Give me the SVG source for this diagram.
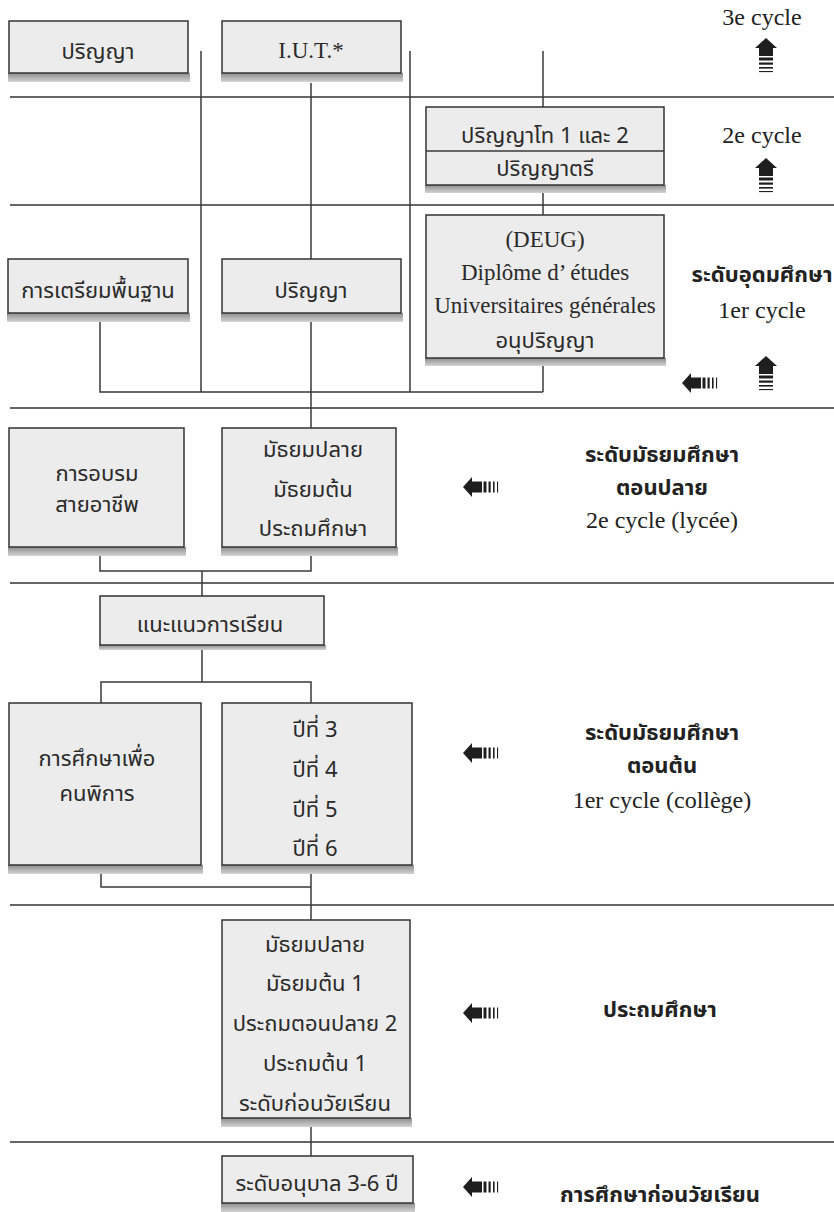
<svg xmlns="http://www.w3.org/2000/svg" width="834" height="1212" viewBox="0 0 834 1212">
<style>
.bg{fill:#ffffff}
.box{fill:#ececec;stroke:#333333;stroke-width:1.5}
.shd{fill:url(#sg)}
.ln{stroke:#3a3a3a;stroke-width:1.5;fill:none}
.sep{stroke:#333333;stroke-width:1.5}
.th{font-family:"Noto Sans Thai","Noto Sans","DejaVu Sans",sans-serif;font-size:22px;fill:#2a2a2a;text-anchor:middle}
.lat{font-family:"Liberation Serif","DejaVu Serif",serif;font-size:23px;fill:#2a2a2a;text-anchor:middle}
.thb{font-family:"Noto Sans Thai","Noto Sans","DejaVu Sans",sans-serif;font-size:22px;font-weight:bold;fill:#222222;text-anchor:middle}
.latr{font-family:"Liberation Serif","DejaVu Serif",serif;font-size:24px;fill:#222222;text-anchor:middle}
.arr{fill:#1e1e1e}
</style>
<defs>
<linearGradient id="sg" x1="0" y1="0" x2="0" y2="1">
<stop offset="0" stop-color="#8c8c8c"/>
<stop offset="1" stop-color="#d4d4d4"/>
</linearGradient>
<g id="upArrow">
<polygon points="0,0 11,10 7,10 7,18 -7,18 -7,10 -11,10"/>
<rect x="-7" y="19.5" width="14" height="3"/>
<rect x="-7" y="24.5" width="14" height="2.2"/>
<rect x="-7" y="29" width="14" height="1.6"/>
<rect x="-7" y="33" width="14" height="1.1"/>
</g>
<g id="leftArrow">
<polygon points="0,0 9,-10 9,-5.5 19,-5.5 19,5.5 9,5.5 9,10"/>
<rect x="20.5" y="-5.5" width="3" height="11"/>
<rect x="25.5" y="-5.5" width="2.2" height="11"/>
<rect x="30" y="-5.5" width="1.6" height="11"/>
<rect x="34" y="-5.5" width="1.1" height="11"/>
</g>
</defs>
<rect class="bg" x="0" y="0" width="834" height="1212"/>

<g id="separators">
<line class="sep" x1="10" y1="97" x2="834" y2="97"/>
<line class="sep" x1="10" y1="205" x2="834" y2="205"/>
<line class="sep" x1="10" y1="408" x2="834" y2="408"/>
<line class="sep" x1="10" y1="583" x2="834" y2="583"/>
<line class="sep" x1="10" y1="905" x2="834" y2="905"/>
<line class="sep" x1="10" y1="1142" x2="834" y2="1142"/>
</g>

<g id="connectors">
<line class="ln" x1="201" y1="51" x2="201" y2="392"/>
<line class="ln" x1="410" y1="51" x2="410" y2="392"/>
<line class="ln" x1="311" y1="83" x2="311" y2="259"/>
<line class="ln" x1="311" y1="322" x2="311" y2="428"/>
<line class="ln" x1="543" y1="51" x2="543" y2="107"/>
<line class="ln" x1="543" y1="193" x2="543" y2="215"/>
<line class="ln" x1="543" y1="366" x2="543" y2="392"/>
<polyline class="ln" points="100,322 100,392 543,392"/>
<polyline class="ln" points="100,556 100,571 311,571 311,556"/>
<line class="ln" x1="202" y1="571" x2="202" y2="596"/>
<line class="ln" x1="202" y1="649" x2="202" y2="682"/>
<polyline class="ln" points="101,703 101,682 311,682 311,703"/>
<polyline class="ln" points="101,874 101,887 311,887"/>
<line class="ln" x1="311" y1="874" x2="311" y2="920"/>
<line class="ln" x1="311" y1="1127" x2="311" y2="1156"/>
</g>

<g id="n-parinya-top">
<rect class="shd" x="8" y="73" width="182" height="9"/>
<rect class="box" x="9" y="21" width="179" height="52"/>
<text class="th" x="98" y="59">ปริญญา</text>
</g>
<g id="n-iut">
<rect class="shd" x="221" y="73" width="182" height="9"/>
<rect class="box" x="222" y="21" width="179" height="52"/>
<text class="lat" x="311" y="58">I.U.T.*</text>
</g>
<g id="n-master">
<rect class="shd" x="425" y="185" width="241" height="8"/>
<rect class="box" x="426" y="107" width="238" height="78"/>
<line class="ln" x1="426" y1="151" x2="664" y2="151"/>
<text class="th" x="545" y="143">ปริญญาโท 1 และ 2</text>
<text class="th" x="545" y="176">ปริญญาตรี</text>
</g>
<g id="n-prep">
<rect class="shd" x="7" y="313" width="183" height="9"/>
<rect class="box" x="8" y="259" width="180" height="54"/>
<text class="th" x="98" y="298">การเตรียมพื้นฐาน</text>
</g>
<g id="n-parinya-mid">
<rect class="shd" x="221" y="313" width="182" height="9"/>
<rect class="box" x="222" y="259" width="179" height="54"/>
<text class="th" x="311" y="298">ปริญญา</text>
</g>
<g id="n-deug">
<rect class="shd" x="425" y="358" width="241" height="8"/>
<rect class="box" x="426" y="215" width="238" height="143"/>
<text class="lat" x="545" y="247">(DEUG)</text>
<text class="lat" x="545" y="280">Diplôme d’ études</text>
<text class="lat" x="545" y="313">Universitaires générales</text>
<text class="th" x="545" y="348">อนุปริญญา</text>
</g>
<g id="n-vocational">
<rect class="shd" x="8" y="547" width="178" height="9"/>
<rect class="box" x="9" y="428" width="175" height="119"/>
<text class="th" x="97" y="481">การอบรม</text>
<text class="th" x="97" y="512">สายอาชีพ</text>
</g>
<g id="n-secondary-upper">
<rect class="shd" x="221" y="547" width="177" height="9"/>
<rect class="box" x="222" y="428" width="174" height="119"/>
<text class="th" x="313" y="457">มัธยมปลาย</text>
<text class="th" x="313" y="497">มัธยมต้น</text>
<text class="th" x="313" y="536">ประถมศึกษา</text>
</g>
<g id="n-guidance">
<rect class="shd" x="99" y="645" width="227" height="5"/>
<rect class="box" x="100" y="596" width="224" height="49"/>
<text class="th" x="210" y="632">แนะแนวการเรียน</text>
</g>
<g id="n-special">
<rect class="shd" x="8" y="865" width="195" height="9"/>
<rect class="box" x="9" y="703" width="192" height="162"/>
<text class="th" x="97" y="766">การศึกษาเพื่อ</text>
<text class="th" x="97" y="801">คนพิการ</text>
</g>
<g id="n-years">
<rect class="shd" x="221" y="865" width="193" height="9"/>
<rect class="box" x="222" y="703" width="190" height="162"/>
<text class="th" x="315" y="737">ปีที่ 3</text>
<text class="th" x="315" y="777">ปีที่ 4</text>
<text class="th" x="315" y="817">ปีที่ 5</text>
<text class="th" x="315" y="856">ปีที่ 6</text>
</g>
<g id="n-primary">
<rect class="shd" x="221" y="1118" width="191" height="9"/>
<rect class="box" x="222" y="920" width="188" height="198"/>
<text class="th" x="315" y="952">มัธยมปลาย</text>
<text class="th" x="315" y="991">มัธยมต้น 1</text>
<text class="th" x="315" y="1031">ประถมตอนปลาย 2</text>
<text class="th" x="315" y="1071">ประถมต้น 1</text>
<text class="th" x="315" y="1111">ระดับก่อนวัยเรียน</text>
</g>
<g id="n-kindergarten">
<rect class="shd" x="221" y="1203" width="194" height="9"/>
<rect class="box" x="222" y="1156" width="191" height="47"/>
<text class="th" x="317" y="1191">ระดับอนุบาล 3-6 ปี</text>
</g>

<g id="labels">
<text class="latr" x="762" y="25">3e cycle</text>
<text class="latr" x="762" y="143">2e cycle</text>
<text class="thb" x="762" y="282">ระดับอุดมศึกษา</text>
<text class="latr" x="762" y="318">1er cycle</text>
<text class="thb" x="662" y="462">ระดับมัธยมศึกษา</text>
<text class="thb" x="662" y="495">ตอนปลาย</text>
<text class="latr" x="662" y="528">2e cycle (lycée)</text>
<text class="thb" x="662" y="740">ระดับมัธยมศึกษา</text>
<text class="thb" x="662" y="773">ตอนต้น</text>
<text class="latr" x="662" y="808">1er cycle (collège)</text>
<text class="thb" x="660" y="1017">ประถมศึกษา</text>
<text class="thb" x="660" y="1202">การศึกษาก่อนวัยเรียน</text>
</g>

<g id="arrows" class="arr">
<use href="#upArrow" x="766" y="38"/>
<use href="#upArrow" x="766" y="158"/>
<use href="#upArrow" x="766" y="356"/>
<use href="#leftArrow" x="682" y="383"/>
<use href="#leftArrow" x="463" y="487"/>
<use href="#leftArrow" x="463" y="753"/>
<use href="#leftArrow" x="463" y="1013"/>
<use href="#leftArrow" x="463" y="1187"/>
</g>
</svg>
